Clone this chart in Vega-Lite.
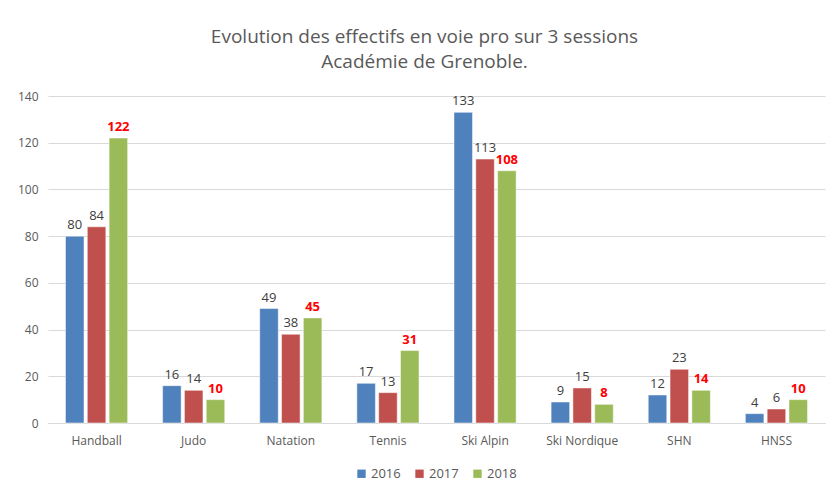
{
  "$schema": "https://vega.github.io/schema/vega-lite/v6.json",
  "width": 777,
  "height": 327,
  "autosize": {"type": "none"},
  "padding": {"left": 48, "top": 96, "right": 9, "bottom": 65},
  "background": "#ffffff",
  "title": {
    "text": ["Evolution des effectifs en voie pro sur 3 sessions", "Académie de Grenoble."],
    "anchor": "middle",
    "font": "Open Sans",
    "fontSize": 19,
    "fontWeight": "normal",
    "color": "#595959",
    "lineHeight": 25,
    "offset": 18,
    "dx": -12
  },
  "config": {
    "view": {"stroke": null},
    "font": "Open Sans"
  },
  "data": {
    "values": [
      {"sport": "Handball", "year": "2016", "value": 80},
      {"sport": "Handball", "year": "2017", "value": 84},
      {"sport": "Handball", "year": "2018", "value": 122},
      {"sport": "Judo", "year": "2016", "value": 16},
      {"sport": "Judo", "year": "2017", "value": 14},
      {"sport": "Judo", "year": "2018", "value": 10},
      {"sport": "Natation", "year": "2016", "value": 49},
      {"sport": "Natation", "year": "2017", "value": 38},
      {"sport": "Natation", "year": "2018", "value": 45},
      {"sport": "Tennis", "year": "2016", "value": 17},
      {"sport": "Tennis", "year": "2017", "value": 13},
      {"sport": "Tennis", "year": "2018", "value": 31},
      {"sport": "Ski Alpin", "year": "2016", "value": 133},
      {"sport": "Ski Alpin", "year": "2017", "value": 113},
      {"sport": "Ski Alpin", "year": "2018", "value": 108},
      {"sport": "Ski Nordique", "year": "2016", "value": 9},
      {"sport": "Ski Nordique", "year": "2017", "value": 15},
      {"sport": "Ski Nordique", "year": "2018", "value": 8},
      {"sport": "SHN", "year": "2016", "value": 12},
      {"sport": "SHN", "year": "2017", "value": 23},
      {"sport": "SHN", "year": "2018", "value": 14},
      {"sport": "HNSS", "year": "2016", "value": 4},
      {"sport": "HNSS", "year": "2017", "value": 6},
      {"sport": "HNSS", "year": "2018", "value": 10}
    ]
  },
  "encoding": {
    "x": {
      "field": "sport",
      "type": "nominal",
      "sort": null,
      "scale": {"paddingInner": 0.36, "paddingOuter": 0.18},
      "axis": {
        "title": null,
        "labelAngle": 0,
        "labelFontSize": 12,
        "labelColor": "#595959",
        "labelPadding": 12,
        "ticks": false,
        "domainColor": "#D9D9D9",
        "domainWidth": 1
      }
    },
    "xOffset": {
      "field": "year",
      "type": "nominal",
      "scale": {"paddingInner": 0.15}
    },
    "y": {
      "field": "value",
      "type": "quantitative",
      "scale": {"domain": [0, 140]},
      "axis": {
        "title": null,
        "values": [0, 20, 40, 60, 80, 100, 120, 140],
        "labelFontSize": 12,
        "labelColor": "#595959",
        "labelPadding": 10,
        "ticks": false,
        "domain": false,
        "gridColor": "#D9D9D9",
        "gridWidth": 1
      }
    }
  },
  "layer": [
    {
      "mark": {"type": "bar", "stroke": "#ffffff", "strokeWidth": 0.5},
      "encoding": {
        "color": {
          "field": "year",
          "type": "nominal",
          "scale": {"domain": ["2016", "2017", "2018"], "range": ["#4F81BD", "#C0504D", "#9BBB59"]},
          "legend": {
            "title": null,
            "orient": "none",
            "direction": "horizontal",
            "legendX": 307,
            "legendY": 371,
            "symbolType": "square",
            "symbolSize": 70,
            "symbolStrokeWidth": 0,
            "labelFontSize": 13,
            "labelColor": "#595959",
            "columnPadding": 12,
            "labelOffset": 3
          }
        }
      }
    },
    {
      "transform": [{"filter": "datum.year !== '2018'"}],
      "mark": {"type": "text", "fontSize": 13, "color": "#404040", "baseline": "bottom", "dy": -4},
      "encoding": {"text": {"field": "value", "type": "quantitative"}}
    },
    {
      "transform": [{"filter": "datum.year === '2018'"}],
      "mark": {"type": "text", "fontSize": 13, "fontWeight": "bold", "color": "#FF0000", "baseline": "bottom", "dy": -4},
      "encoding": {"text": {"field": "value", "type": "quantitative"}}
    }
  ]
}
